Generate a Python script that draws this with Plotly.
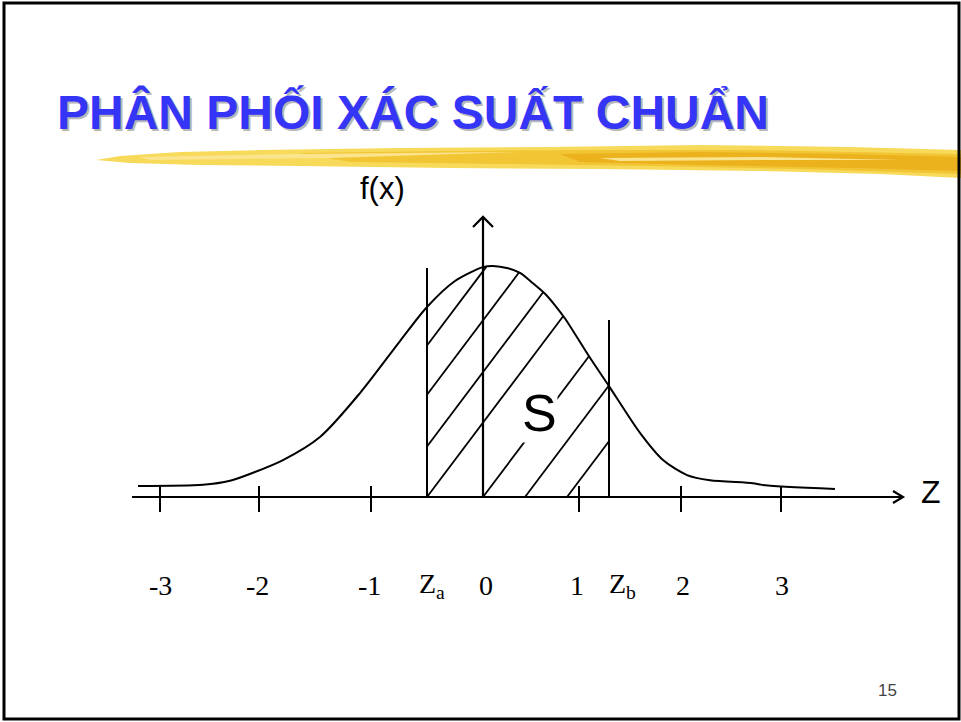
import numpy as np
import plotly.graph_objects as go

W, H = 961, 722

# ---------------- data (z units on the horizontal axis, density on the vertical) ----------------
curve_z = [-3.45, -2.80, -2.53, -2.30, -2.00, -1.63, -1.23, -0.83, -0.56, -0.28, 0.00, 0.10,
           0.25, 0.37, 0.50, 0.62, 0.72, 0.82, 1.07, 1.26, 1.57, 1.80, 2.04, 2.27, 2.70, 2.79, 3.52]
curve_f = [0.019, 0.021, 0.028, 0.042, 0.064, 0.104, 0.180, 0.270, 0.329, 0.374, 0.398, 0.400,
           0.396, 0.388, 0.370, 0.352, 0.332, 0.309, 0.241, 0.192, 0.111, 0.064, 0.038, 0.029,
           0.024, 0.021, 0.014]

tick_z = [-3.23, -2.24, -1.12, 0.96, 1.98, 2.98]
label_z = [-3.23, -2.26, -1.14, -0.51, 0.03, 0.94, 1.39, 2.00, 2.99]
label_text = ["-3", "-2", "-1", "Z<sub>a</sub>", "0", "1", "Z<sub>b</sub>", "2", "3"]

z_a, z_b = -0.56, 1.26
z_a_top, z_b_top = 0.3965, 0.3065
hatch_start = [-1.70, -1.33, -0.94, -0.56, 0.0, 0.42, 0.84]
hatch_slope = 0.23

x_axis_ends = [-3.51, 4.20]
y_axis_top = 0.485

# pixel mapping of the drawing: 0 at x=483px, 100px per unit; f=0 at y=497px, 577.5px per unit
x_range = [-483 / 100, (W - 483) / 100]
y_range = [(497 - H) / 577.5, 497 / 577.5]
dz_px = 1 / 100
df_px = 1 / 577.5


def paper_x(p):
    return p / W


def paper_y(p):
    return 1 - p / H


line_col = 'black'
fig = go.Figure()

# axes with open arrow heads
ax_x, ax_y = [], []
ax_x += [x_axis_ends[0], x_axis_ends[1], None]
ax_y += [0, 0, None]
ax_x += [x_axis_ends[1] - 10 * dz_px, x_axis_ends[1], x_axis_ends[1] - 10 * dz_px, None]
ax_y += [6 * df_px, 0, -6 * df_px, None]
ax_x += [0, 0, None]
ax_y += [0, y_axis_top, None]
ax_x += [-10 * dz_px, 0, 10 * dz_px, None]
ax_y += [y_axis_top - 10 * df_px, y_axis_top, y_axis_top - 10 * df_px, None]
fig.add_trace(go.Scatter(x=ax_x, y=ax_y, mode='lines', line=dict(color=line_col, width=2.2),
                         hoverinfo='skip'))

# tick marks
tx, ty = [], []
for z in tick_z:
    tx += [z, z, None]
    ty += [11 * df_px, -15 * df_px, None]
fig.add_trace(go.Scatter(x=tx, y=ty, mode='lines', line=dict(color=line_col, width=2),
                         hoverinfo='skip'))

# Za / Zb verticals
fig.add_trace(go.Scatter(x=[z_a, z_a, None, z_b, z_b], y=[0, z_a_top, None, 0, z_b_top],
                         mode='lines', line=dict(color=line_col, width=2), hoverinfo='skip'))

# hatching between Za and Zb under the curve
hx, hy = [], []
grid = np.linspace(z_a, z_b, 2000)
curve_on_grid = np.interp(grid, curve_z, curve_f)
for z0 in hatch_start:
    zs = max(z0, z_a)
    line_f = hatch_slope * (grid - z0)
    ok = (grid >= zs) & (line_f <= curve_on_grid)
    if not ok.any():
        continue
    ze = grid[ok][-1]
    hx += [zs, ze, None]
    hy += [hatch_slope * (zs - z0), hatch_slope * (ze - z0), None]
fig.add_trace(go.Scatter(x=hx, y=hy, mode='lines', line=dict(color=line_col, width=1.8),
                         hoverinfo='skip'))

# the bell curve
fig.add_trace(go.Scatter(x=curve_z, y=curve_f, mode='lines',
                         line=dict(color=line_col, width=2, shape='spline', smoothing=0.8),
                         hoverinfo='skip'))

annotations = []
for z, t in zip(label_z, label_text):
    annotations.append(dict(x=z, y=-88 * df_px, text=t, showarrow=False,
                            font=dict(family='Liberation Serif', size=28, color='black')))

title = '<b>PHÂN PHỐI XÁC SUẤT CHUẨN</b>'
annotations += [
    dict(x=0.56, y=84 * df_px, text='S', showarrow=False, bgcolor='white', borderpad=0,
         font=dict(family='Liberation Sans', size=52, color='black')),
    dict(x=4.48, y=5 * df_px, text='Z', showarrow=False,
         font=dict(family='Liberation Sans', size=32, color='black')),
    dict(x=-1.01, y=309 * df_px, text='f(x)', showarrow=False,
         font=dict(family='Liberation Sans', size=31, color='black')),
    # title shadow + title
    dict(xref='paper', yref='paper', x=paper_x(57), y=paper_y(114), xanchor='left', yanchor='middle',
         text=title, showarrow=False,
         font=dict(family='Liberation Sans', size=48, color='#b8b8b8')),
    dict(xref='paper', yref='paper', x=paper_x(55), y=paper_y(112), xanchor='left', yanchor='middle',
         text=title, showarrow=False,
         font=dict(family='Liberation Sans', size=48, color='#3535F8')),
    dict(xref='paper', yref='paper', x=paper_x(887), y=paper_y(690), xanchor='center', yanchor='middle',
         text='15', showarrow=False,
         font=dict(family='Liberation Sans', size=17, color='#444444')),
]


def poly(points):
    d = 'M ' + ' L '.join(f'{paper_x(a):.4f},{paper_y(b):.4f}' for a, b in points) + ' Z'
    return d


brush_layers = [
    ('#F8DA5A', [(96, 160), (120, 156), (180, 152), (260, 150), (400, 148), (550, 147), (700, 145),
                 (850, 147), (961, 150), (961, 178), (880, 174), (760, 171), (600, 169), (450, 168),
                 (300, 166), (200, 165), (130, 163)]),
    ('#F2C535', [(300, 153), (450, 151), (600, 150), (750, 150), (961, 154), (961, 174), (800, 169),
                 (650, 166), (500, 164), (350, 162)]),
    ('#EBB21E', [(560, 154), (700, 152), (850, 154), (961, 157), (961, 171), (850, 168), (700, 165),
                 (580, 162)]),
    ('#FBE48E', [(140, 157), (300, 154), (520, 152), (330, 158), (150, 160)]),
    ('#FBE48E', [(600, 158), (760, 157), (900, 160), (760, 160), (620, 161)]),
]

shapes = []
for col, pts in brush_layers:
    shapes.append(dict(type='path', xref='paper', yref='paper', path=poly(pts),
                       fillcolor=col, line=dict(width=0), layer='below'))

shapes.append(dict(type='rect', xref='paper', yref='paper',
                   x0=paper_x(4), x1=paper_x(959), y0=paper_y(719), y1=paper_y(3),
                   line=dict(color='black', width=3)))

fig.update_layout(
    width=W, height=H,
    margin=dict(l=0, r=0, t=0, b=0),
    paper_bgcolor='white', plot_bgcolor='white',
    showlegend=False,
    xaxis=dict(range=x_range, visible=False, fixedrange=True),
    yaxis=dict(range=y_range, visible=False, fixedrange=True),
    annotations=annotations,
    shapes=shapes,
)

fig.write_html("out.html", config={'displayModeBar': False},
               post_script="document.body.style.margin='0';")
